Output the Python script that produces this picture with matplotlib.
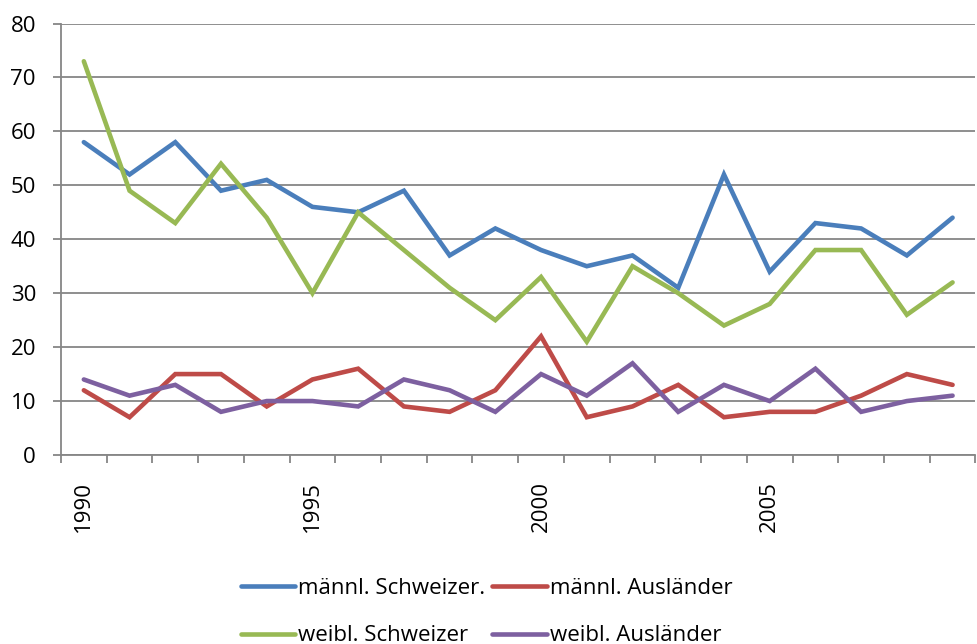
import numpy as np
import matplotlib
matplotlib.use("Agg")
from matplotlib import pyplot as plt

years = list(range(1990, 2010))
maennl_schweizer = [58, 52, 58, 49, 51, 46, 45, 49, 37, 42, 38, 35, 37, 31, 52, 34, 43, 42, 37, 44]
maennl_auslaender = [12, 7, 15, 15, 9, 14, 16, 9, 8, 12, 22, 7, 9, 13, 7, 8, 8, 11, 15, 13]
weibl_schweizer = [73, 49, 43, 54, 44, 30, 45, 38, 31, 25, 33, 21, 35, 30, 24, 28, 38, 38, 26, 32]
weibl_auslaender = [14, 11, 13, 8, 10, 10, 9, 14, 12, 8, 15, 11, 17, 8, 13, 10, 16, 8, 10, 11]
tick_years = [1990, 1995, 2000, 2005]

plt.rcParams['font.family'] = ['Open Sans', 'DejaVu Sans']

fig = plt.figure(figsize=(9.77, 6.44), dpi=100)
ax = fig.add_axes([0.0624, 0.2935, 0.936, 0.67])

x = np.arange(len(years))
series = [
    (maennl_schweizer, "#4a7ebb", "männl. Schweizer."),
    (maennl_auslaender, "#be4b48", "männl. Ausländer"),
    (weibl_schweizer, "#98b954", "weibl. Schweizer"),
    (weibl_auslaender, "#7d60a0", "weibl. Ausländer"),
]
lines = []
for vals, col, lab in series:
    ln, = ax.plot(x, vals, color=col, lw=3.3, label=lab, solid_capstyle="round", solid_joinstyle="miter")
    lines.append(ln)

ax.set_xlim(-0.5, len(years) - 0.5)
ax.set_ylim(0, 80)
ax.set_yticks(range(0, 81, 10))
ax.yaxis.grid(True, color="#868686", lw=1.3)
ax.set_axisbelow(True)

ax.set_xticks([years.index(y) for y in tick_years])
ax.set_xticklabels([str(y) for y in tick_years], rotation=90, va="top")
ax.set_xticks(np.arange(-0.5, len(years), 1), minor=True)
ax.tick_params(axis="x", which="major", length=0, pad=19, labelsize=16)
ax.tick_params(axis="x", which="minor", length=6, width=1.3, color="#868686")
ax.tick_params(axis="y", length=6, width=1.3, color="#868686", pad=12, labelsize=16)

for s in ["top", "right"]:
    ax.spines[s].set_visible(False)
for s in ["left", "bottom"]:
    ax.spines[s].set_color("#868686")
    ax.spines[s].set_linewidth(1.3)

# legend is filled column-wise, so order it to read row-wise like the original
order = [0, 2, 1, 3]
fig.legend([lines[i] for i in order], [series[i][2] for i in order],
           loc="upper center", bbox_to_anchor=(0.498, 0.103), ncol=2, frameon=False,
           fontsize=16, handlelength=2.45, handletextpad=0.15, columnspacing=0.3,
           labelspacing=1.2, borderaxespad=0, borderpad=0)

fig.savefig("out.png", dpi=100)
